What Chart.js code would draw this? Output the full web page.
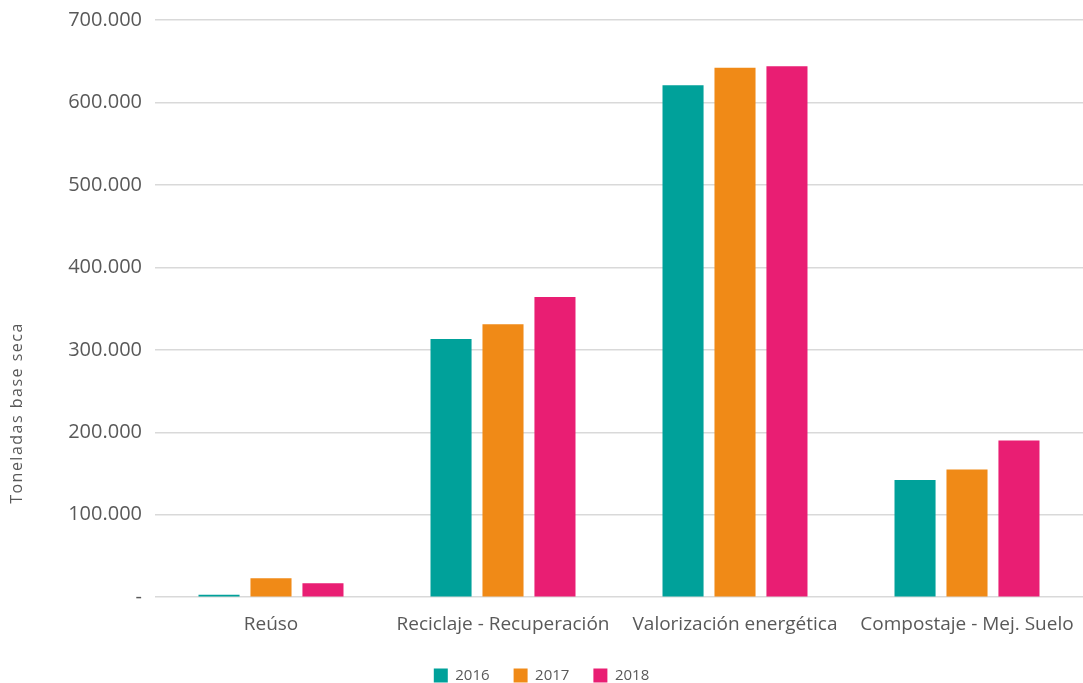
<!DOCTYPE html>
<html>
<head>
<meta charset="utf-8">
<script src="https://cdn.jsdelivr.net/npm/chart.js@4/dist/chart.umd.min.js"></script>
<style>
  html, body { margin: 0; padding: 0; background: #ffffff; }
  #wrap { width: 1083px; height: 683px; position: relative; }
</style>
</head>
<body>
<div id="wrap"><canvas id="c" width="1083" height="683"></canvas></div>
<script>
const categories = ["Reúso", "Reciclaje - Recuperación", "Valorización energética", "Compostaje - Mej. Suelo"];
const seriesNames = ["2016", "2017", "2018"];
const values2016 = [3000, 313000, 621000, 142000];
const values2017 = [23000, 331000, 642000, 155000];
const values2018 = [17000, 364000, 644000, 190000];
const yTicks = [0, 100000, 200000, 300000, 400000, 500000, 600000, 700000];
const yTitle = "Toneladas base seca";
const colors = ["#00A19A", "#F08A17", "#E91E73"];

const FONT = "'Open Sans', sans-serif";
const TEXT = "#595959";

function fmt(v) {
  if (v === 0) return "-";
  return String(v).replace(/\B(?=(\d{3})+(?!\d))/g, ".");
}

const yTitlePlugin = {
  id: "yTitle",
  afterDraw(chart) {
    const ctx = chart.ctx;
    ctx.save();
    ctx.translate(17, 413);
    ctx.rotate(-Math.PI / 2);
    ctx.font = "16px " + FONT;
    ctx.letterSpacing = "1.5px";
    ctx.fillStyle = TEXT;
    ctx.textAlign = "center";
    ctx.textBaseline = "middle";
    ctx.fillText(yTitle, 0, 0);
    ctx.restore();
  }
};

const allSeries = [values2016, values2017, values2018];
new Chart(document.getElementById("c"), {
  type: "bar",
  data: {
    labels: categories,
    datasets: seriesNames.map((n, i) => ({
      label: n,
      data: allSeries[i],
      backgroundColor: colors[i],
      borderWidth: 0,
      categoryPercentage: 0.672,
      barPercentage: 0.79
    }))
  },
  options: {
    responsive: false,
    animation: false,
    devicePixelRatio: 1,
    layout: { padding: { top: 20, right: 0, left: 0, bottom: -10 } },
    plugins: {
      legend: {
        position: "bottom",
        labels: {
          boxWidth: 14, boxHeight: 14, padding: 24,
          color: TEXT,
          font: { family: FONT, size: 15 }
        }
      },
      tooltip: { enabled: false }
    },
    scales: {
      x: {
        grid: { display: false },
        border: { display: false },
        ticks: { color: TEXT, font: { family: FONT, size: 19 }, padding: 8 }
      },
      y: {
        min: 0, max: 700000,
        afterBuildTicks: (axis) => { axis.ticks = yTicks.map(v => ({ value: v })); },
        afterFit: (axis) => { axis.width = 155; axis.paddingTop = 0; axis.paddingBottom = 0; },
        grid: { color: "#d9d9d9", lineWidth: 1.5, drawTicks: false },
        border: { display: false },
        ticks: {
          color: TEXT, font: { family: FONT, size: 20 }, padding: 13,
          callback: (v) => fmt(v)
        }
      }
    }
  },
  plugins: [yTitlePlugin]
});
</script>
</body>
</html>
